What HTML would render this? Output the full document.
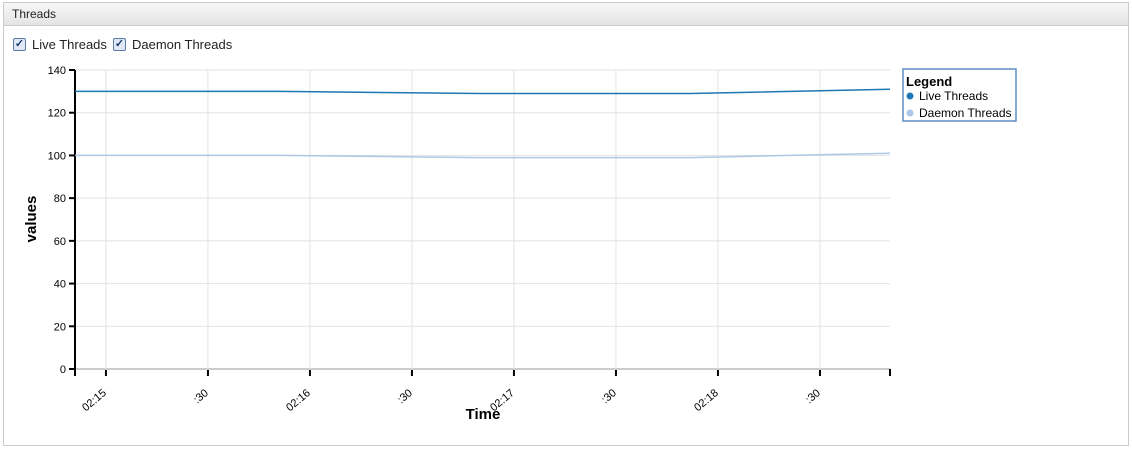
<!DOCTYPE html>
<html><head><meta charset="utf-8"><style>
body{margin:0;width:1132px;height:449px;background:#fff;font-family:"Liberation Sans",sans-serif;overflow:hidden}
#panel{position:absolute;left:3px;top:2px;width:1124px;height:442px;border:1px solid #ccc;background:#fff}
#hdr{height:22px;border-bottom:1px solid #ccc;background:linear-gradient(#f7f7f7,#e4e4e4);font-size:12px;line-height:22px;padding-left:8px;color:#222}
.cb{position:absolute;top:37px;font-size:13px;color:#222;display:flex;align-items:center}
.box{width:11px;height:11px;border:1px solid #5a7aa8;border-radius:2px;background:#dfe8f5;margin-right:6px;font-size:11px;line-height:11px;text-align:center;color:#1a3a6a;font-weight:bold}
svg{position:absolute;left:0;top:0}
</style></head><body>
<div id="panel">
<div id="hdr">Threads</div>
</div>
<div class="cb" style="left:13px"><div class="box">✓</div>Live Threads</div>
<div class="cb" style="left:113px"><div class="box">✓</div>Daemon Threads</div>
<svg id="chart" width="1132" height="449"></svg>
<script>
const times=[-9.1,51,110,172,230.6];
const liveValues=[130,130,129,129,131];
const daemonValues=[100,100,99,99,101];
const yTicks=[0,20,40,60,80,100,120,140];
const xTickTimes=[0,30,60,90,120,150,180,210];
const xTickLabels=["02:15",":30","02:16",":30","02:17",":30","02:18",":30"];
const X0=75,X1=890,Y0=369,Y1=70,T0=-9.1,T1=230.6;
const sx=t=>X0+(t-T0)/(T1-T0)*(X1-X0);
const sy=v=>Y0-v/140*(Y0-Y1);
const svg=document.getElementById('chart');
const NS='http://www.w3.org/2000/svg';
function mk(tag,a,txt){const e=document.createElementNS(NS,tag);for(const k in a)e.setAttribute(k,a[k]);if(txt!==undefined)e.textContent=txt;svg.appendChild(e);return e;}
yTicks.forEach(v=>{
 const g=mk('line',{x1:X0,x2:X1,y1:sy(v),y2:sy(v),stroke:v===0?'#ccc':'#e2e2e2','stroke-width':v===0?2:1});
 
 
 const t=mk('line',{x1:X0-6,x2:X0,y1:sy(v),y2:sy(v),stroke:'#000','stroke-width':2});
 
 
 const l=mk('text',{x:X0-9,y:sy(v)+4,'text-anchor':'end','font-size':11,fill:'#000'},v);
 
 
});
xTickTimes.forEach((t,i)=>{
 const x=sx(t);
 const g=mk('line',{x1:x,x2:x,y1:Y1,y2:Y0,stroke:'#e2e2e2'});
 
 
 const k=mk('line',{x1:x,x2:x,y1:Y0+1,y2:Y0+7,stroke:'#000','stroke-width':2});
 
 
 const l=mk('text',{x:x+1,y:Y0+25,'text-anchor':'end','font-size':11,fill:'#000',transform:`rotate(-40 ${x+1} ${Y0+25})`},xTickLabels[i]);
 
 
});
const ya=mk('line',{x1:X0,x2:X0,y1:Y1,y2:Y0+7,stroke:'#000','stroke-width':2});


const xe=mk('line',{x1:X1,x2:X1,y1:Y0,y2:Y0+7,stroke:'#000','stroke-width':2});


function series(vals,color,name){
 const p=mk('polyline',{points:times.map((t,i)=>sx(t)+','+sy(vals[i])).join(' '),fill:'none',stroke:color,'stroke-width':1.5});
 
 
}
series(daemonValues,'#aec7e8','daemon-threads-line');
series(liveValues,'#1f77b4','live-threads-line');
const yt=mk('text',{x:36,y:219,'text-anchor':'middle','font-size':15,'font-weight':'bold',transform:'rotate(-90 36 219)'},'values');


const xt=mk('text',{x:483,y:419,'text-anchor':'middle','font-size':15,'font-weight':'bold'},'Time');


const lb=mk('rect',{x:903,y:69,width:113,height:52,fill:'#fff',stroke:'#5b8ec4','stroke-width':1.5});


const lt=mk('text',{x:906,y:86,'font-size':13,'font-weight':'bold'},'Legend');


[['Live Threads','#1f77b4',96],['Daemon Threads','#aec7e8',113]].forEach(([n,c,y])=>{
 const d=mk('circle',{cx:910,cy:y,r:3.5,fill:c});
 
 
 const t=mk('text',{x:919,y:y+4,'font-size':12},n);
 
 
});
</script>
</body></html>
